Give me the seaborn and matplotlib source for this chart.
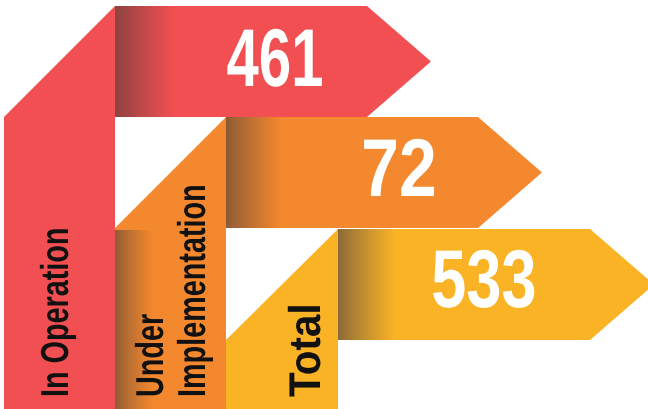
import numpy as np
import matplotlib
matplotlib.use("Agg")
import matplotlib.pyplot as plt
from matplotlib.patches import Polygon
from matplotlib.patheffects import AbstractPathEffect
from matplotlib.transforms import Affine2D
import matplotlib.colors as mcolors
import seaborn as sns

# ---- data ----
categories = ["In Operation", "Under\nImplementation", "Total"]
values = [461, 72, 533]
colors = ["#F14F51", "#F4882E", "#FBB326"]
shadow_colors = ["#8B4342", "#8C5A36", "#8A6A3A"]

sns.set_theme(style="white")
plt.rcParams["font.family"] = ["Liberation Sans", "DejaVu Sans"]
palette = sns.color_palette(colors)
shadows = sns.color_palette(shadow_colors)

W, H = 648, 410
fig = plt.figure(figsize=(W / 100, H / 100), dpi=100)
ax = fig.add_axes([0, 0, 1, 1])
ax.set_xlim(0, W)
ax.set_ylim(H, 0)
ax.axis("off")


class Squeeze(AbstractPathEffect):
    """Scale glyph outlines around an anchor point (condensed lettering)."""

    def __init__(self, anchor, sx=1.0, sy=1.0):
        super().__init__()
        self.anchor = anchor
        self.sx, self.sy = sx, sy

    def draw_path(self, renderer, gc, tpath, affine, rgbFace=None):
        cx, cy = ax.transData.transform(self.anchor)
        a = affine + Affine2D().translate(-cx, -cy).scale(self.sx, self.sy).translate(cx, cy)
        renderer.draw_path(gc, tpath, a, rgbFace)


# ribbon geometry (layout only)
col_left = [4, 115, 226]
col_right = [115, 226, 338]
band_top = [7, 118, 230]
band_bot = [118, 229, 341]
body_end = [367, 478, 590]
tip_len = 64
grad_w = [58, 55, 57]


def gradient(x0, x1, y0, y1, c0, c1, power=0.9, z=2):
    n = 200
    t = np.linspace(0, 1, n) ** power
    c0 = np.array(mcolors.to_rgb(c0))
    c1 = np.array(mcolors.to_rgb(c1))
    arr = (1 - t)[:, None] * c0 + t[:, None] * c1
    ax.imshow(arr[None, :, :], extent=[x0, x1, y1, y0], aspect="auto", zorder=z,
              interpolation="bilinear")


for i in range(3):
    L, R = col_left[i], col_right[i]
    t, b = band_top[i], band_bot[i]
    e = body_end[i]
    mid = (t + b) / 2
    poly = [(L, H), (L, b), (R, t), (e, t), (e + tip_len, mid), (e, b), (R, b), (R, H)]
    ax.add_patch(Polygon(poly, closed=True, facecolor=palette[i], edgecolor="none", zorder=1))
    gradient(R, R + grad_w[i], t, b, shadows[i], palette[i])

# shadow on the left edge of the orange vertical strip
gradient(col_left[1], col_left[1] + 38, band_bot[1] + 2, H, shadows[1], palette[1], power=0.8)
ax.set_xlim(0, W)
ax.set_ylim(H, 0)

# numbers (anchor = centre of baseline)
num_anchor = [(275, 87), (399, 197), (484, 308)]
num_squeeze = [0.71, 0.83, 0.77]
for i, v in enumerate(values):
    ax.text(*num_anchor[i], f"{v}", color="white", fontsize=59, fontweight="bold",
            ha="center", va="baseline", zorder=5,
            path_effects=[Squeeze(num_anchor[i], sx=num_squeeze[i])])

# rotated labels (anchor = start of baseline)
label_lines = [categories[0].split("\n"), categories[1].split("\n"), categories[2].split("\n")]
line_anchor = [[(68, 398)], [(163, 398), (205, 398)], [(320, 398)]]
label_size = [28, 28, 32]
label_squeeze = [0.74, 0.74, 0.91]
for i in range(3):
    for line, anc in zip(label_lines[i], line_anchor[i]):
        ax.text(*anc, line, rotation=90, rotation_mode="anchor", fontsize=label_size[i],
                fontweight="bold", color="#111111", ha="left", va="baseline", zorder=5,
                path_effects=[Squeeze(anc, sy=label_squeeze[i])])

fig.savefig("out.png", dpi=100)
